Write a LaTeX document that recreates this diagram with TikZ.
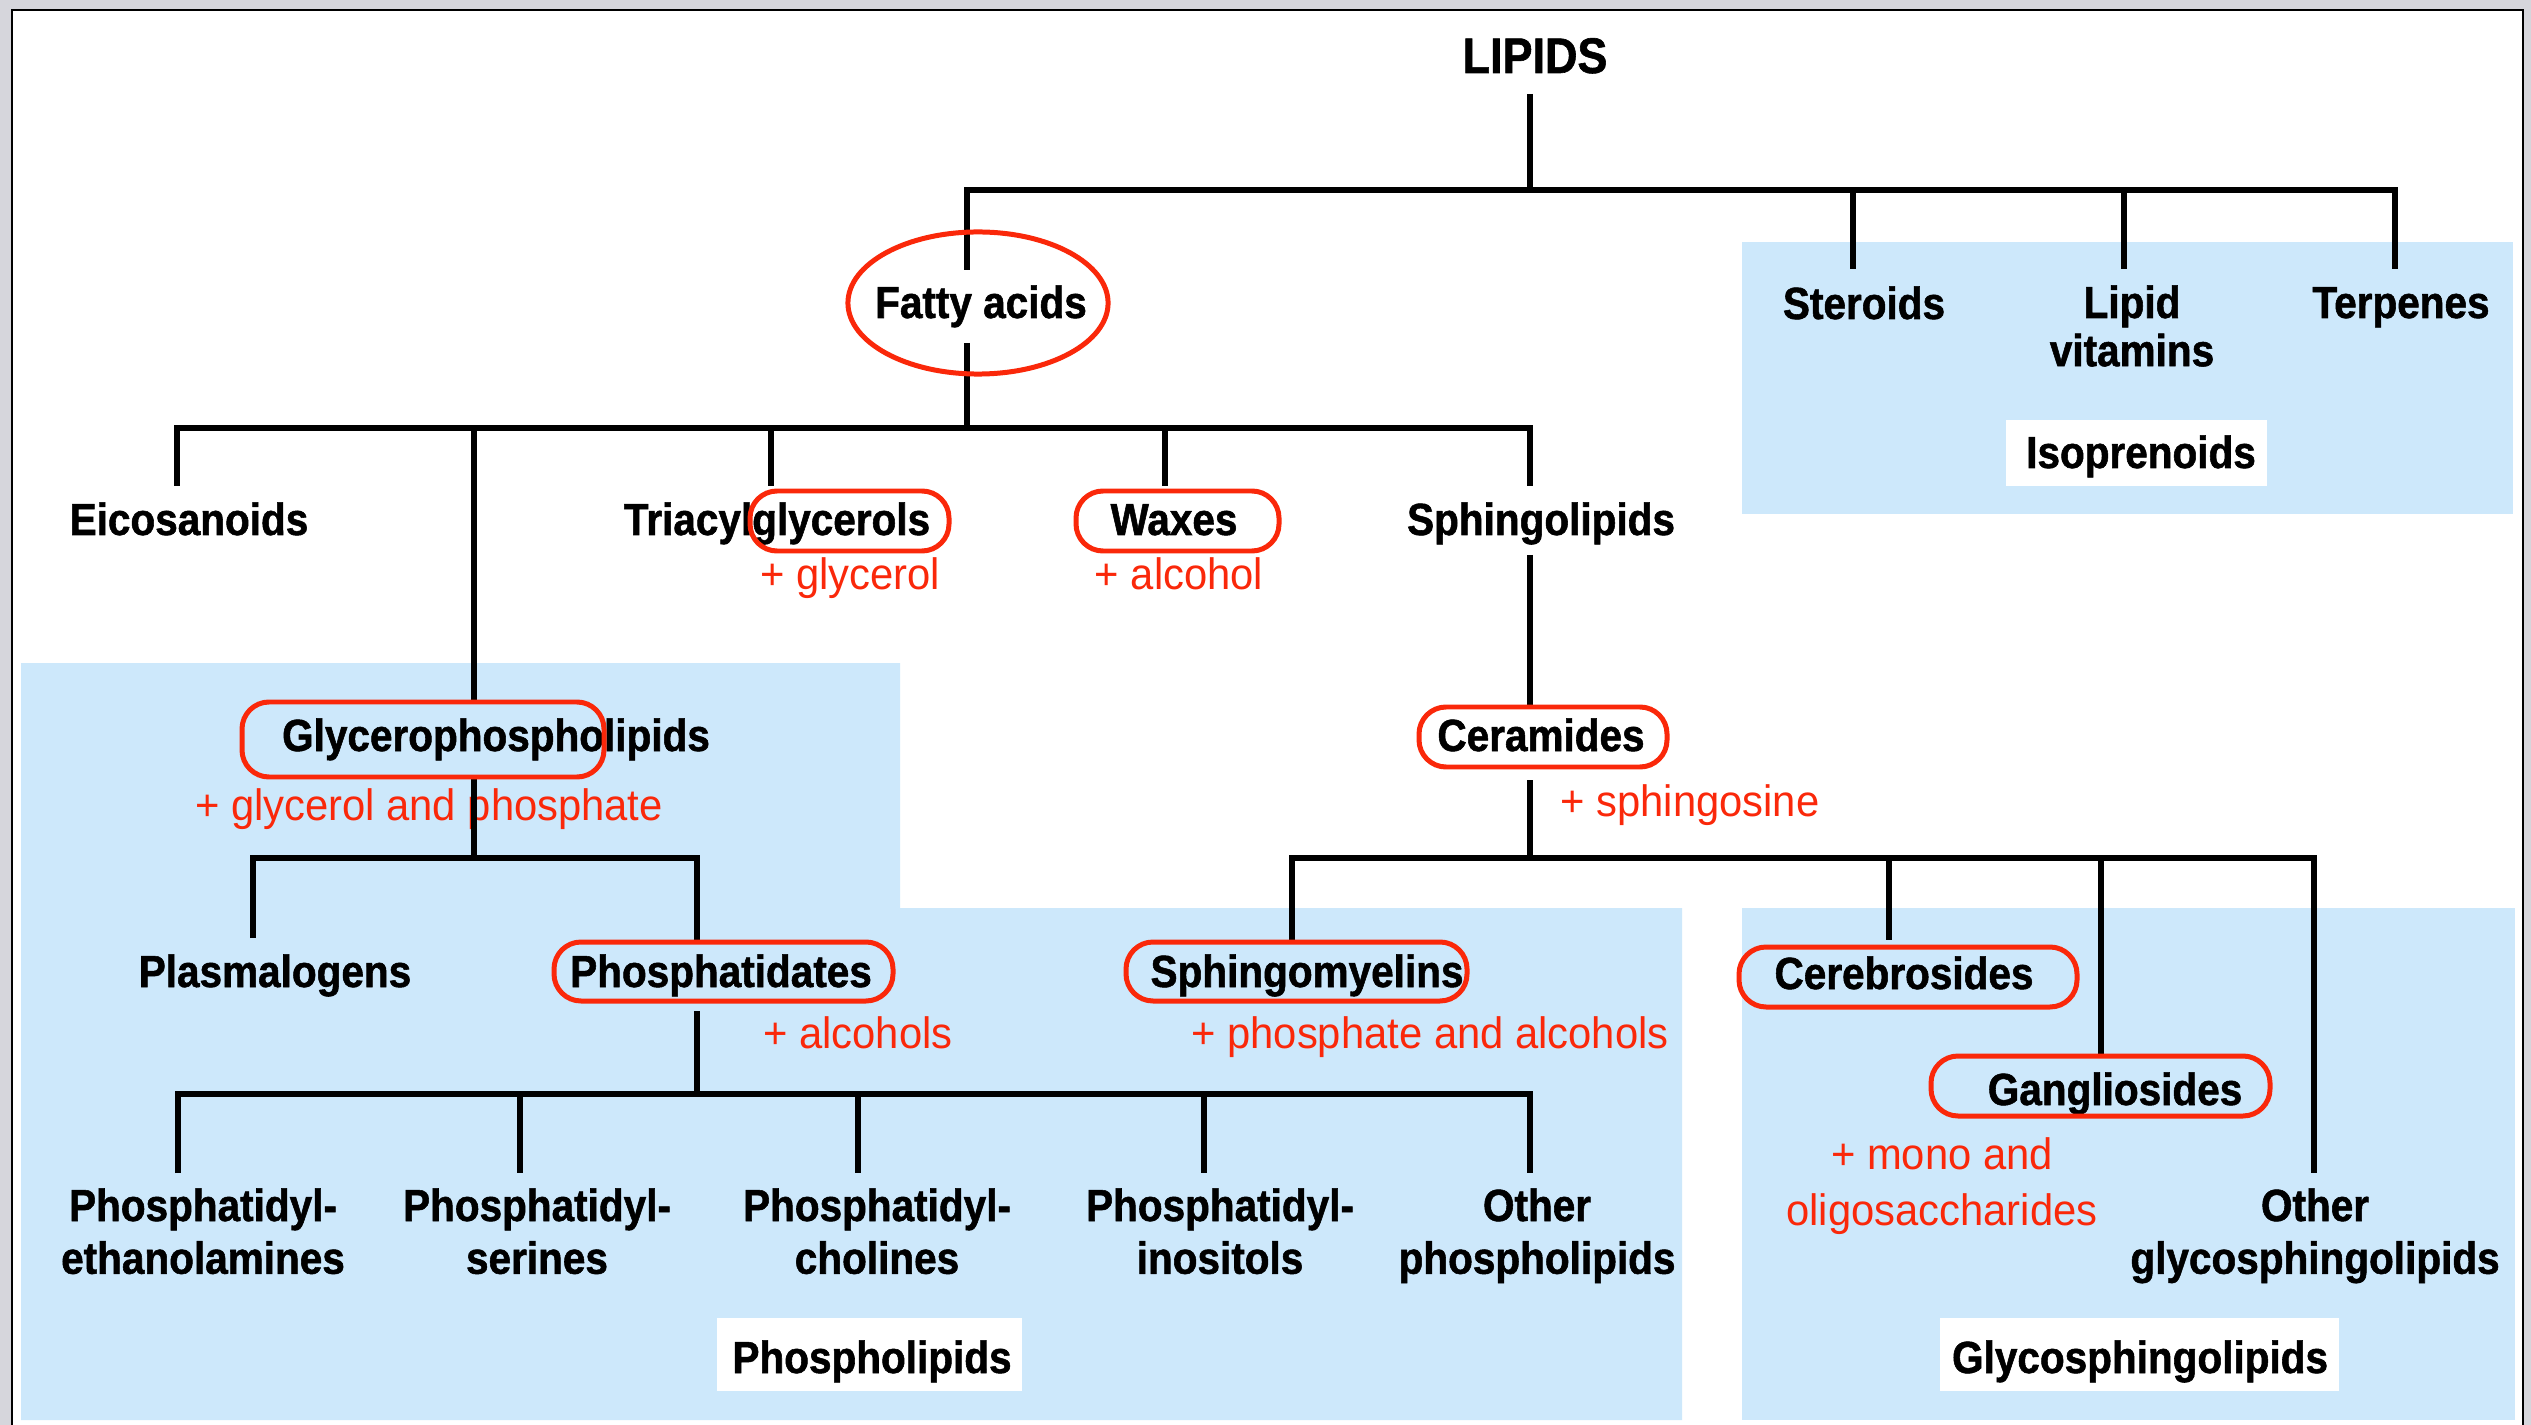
\documentclass[tikz,border=0pt]{standalone}
\usepackage{fontspec}
\setmainfont{Liberation Sans}
\newfontfamily\bk{Liberation Sans}[FakeStretch=0.9, BoldFeatures={FakeBold=1.2}]
\newfontfamily\rdf{Liberation Sans}[FakeStretch=0.95]
\definecolor{lblue}{RGB}{205,232,251}
\definecolor{rr}{RGB}{250,40,10}
\definecolor{frm}{RGB}{214,214,220}
\begin{document}
\begin{tikzpicture}[x=0.01cm,y=-0.01cm,
  tree/.style={line width=1.85pt},
  blk/.style={font=\bk\bfseries\fontsize{12.8}{15}\selectfont, inner sep=0pt, anchor=base},
  rtxt/.style={font=\rdf\fontsize{12.5}{16.2}\selectfont, text=rr, inner sep=0pt, anchor=base},
  rbox/.style={draw=rr, line width=1.42pt, rounded corners=0.27cm}]
\useasboundingbox (0,0) rectangle (2531,1425);
% frame
\fill[frm] (0,0) rectangle (2531,1425);
\fill[white] (12,10) rectangle (2523,1425);
\draw[line width=0.6pt] (12,1425) -- (12,10) -- (2523,10) -- (2523,1425);
% blue areas
\fill[lblue] (1742,242) rectangle (2513,514);
\fill[lblue] (21,663) -- (900,663) -- (900,908) -- (1682,908) -- (1682,1420) -- (21,1420) -- cycle;
\fill[lblue] (1742,908) rectangle (2515,1420);
% white label boxes
\fill[white] (2006,420) rectangle (2267,486);
\fill[white] (717,1318) rectangle (1022,1391);
\fill[white] (1940,1318) rectangle (2339,1391);

% texts
\node[blk, font=\bk\bfseries\fontsize{14.2}{16}\selectfont] (lipids) at (1535,73) {LIPIDS};
\node[blk] (fatty) at (981,318) {Fatty acids};
\node[blk] (steroids) at (1864,319) {Steroids};
\node[blk] (lipvit) at (2132,318) {\fontsize{12.8}{13.7}\selectfont\begin{tabular}[t]{@{}c@{}}Lipid\\vitamins\end{tabular}};
\node[blk] (terpenes) at (2401,318) {Terpenes};
\node[blk] (isopren) at (2141,468) {Isoprenoids};
\node[blk] (eicos) at (189,535) {Eicosanoids};
\node[blk] (triacyl) at (777,535) {Triacylglycerols};
\node[blk] (waxes) at (1174,535) {Waxes};
\node[blk] (sphingo) at (1541,535) {Sphingolipids};
\node[blk] (glycero) at (496,751) {Glycerophospholipids};
\node[blk] (ceram) at (1541,751) {Ceramides};
\node[blk] (plasmal) at (275,987) {Plasmalogens};
\node[blk] (phosphat) at (721,987) {Phosphatidates};
\node[blk] (sphmy) at (1307,987) {Sphingomyelins};
\node[blk] (cerebro) at (1904,989) {Cerebrosides};
\node[blk] (ganglio) at (2115,1105) {Gangliosides};
\node[blk] (pe) at (203,1221) {\begin{tabular}[t]{@{}c@{}}Phosphatidyl-\\ethanolamines\end{tabular}};
\node[blk] (ps) at (537,1221) {\begin{tabular}[t]{@{}c@{}}Phosphatidyl-\\serines\end{tabular}};
\node[blk] (pc) at (877,1221) {\begin{tabular}[t]{@{}c@{}}Phosphatidyl-\\cholines\end{tabular}};
\node[blk] (pi) at (1220,1221) {\begin{tabular}[t]{@{}c@{}}Phosphatidyl-\\inositols\end{tabular}};
\node[blk] (otherp) at (1537,1221) {\begin{tabular}[t]{@{}c@{}}Other\\phospholipids\end{tabular}};
\node[blk] (otherg) at (2315,1221) {\begin{tabular}[t]{@{}c@{}}Other\\glycosphingolipids\end{tabular}};
\node[blk] (phlab) at (872,1373) {Phospholipids};
\node[blk] (gslab) at (2140,1373) {Glycosphingolipids};

% red texts
\node[rtxt] (r1) at (850,590) {+ glycerol};
\node[rtxt] (r2) at (1179,590) {+ alcohol};
\node[rtxt] (r3) at (429,820) {+ glycerol and phosphate};
\node[rtxt] (r4) at (1690,816) {+ sphingosine};
\node[rtxt] (r5) at (858,1048) {+ alcohols};
\node[rtxt] (r6) at (1430,1048) {+ phosphate and alcohols};
\node[rtxt] (r7) at (1942,1169) {\begin{tabular}[t]{@{}c@{}}+ mono and\\oligosaccharides\end{tabular}};

% connector coordinates
\coordinate (lip-s) at (1530,94);
\coordinate (b0) at (1530,190);
\coordinate (fa-n) at (967,270);
\coordinate (st-n) at (1853,269);
\coordinate (lv-n) at (2124,269);
\coordinate (tp-n) at (2395,269);
\coordinate (fa-s) at (967,343);
\coordinate (b1) at (967,428);
\coordinate (ei-n) at (177,486);
\coordinate (gp-n) at (474,702);
\coordinate (tg-n) at (771,486);
\coordinate (wx-n) at (1165,486);
\coordinate (sl-n) at (1530,486);
\coordinate (sl-s) at (1530,555);
\coordinate (cer-n) at (1530,707);
\coordinate (cer-s) at (1530,780);
\coordinate (b3) at (1530,858);
\coordinate (sm-n) at (1292,940);
\coordinate (cb-n) at (1889,940);
\coordinate (gg-n) at (2101,1056);
\coordinate (og-n) at (2314,1173);
\coordinate (gp-s) at (474,779);
\coordinate (b2) at (474,858);
\coordinate (pl-n) at (253,938);
\coordinate (pa-n) at (697,940);
\coordinate (pa-s) at (697,1011);
\coordinate (b4) at (697,1094);
\coordinate (pe-n) at (178,1173);
\coordinate (ps-n) at (520,1173);
\coordinate (pc-n) at (858,1173);
\coordinate (pi-n) at (1204,1173);
\coordinate (op-n) at (1530,1173);

% connectors
\draw[tree] (lip-s) -- (b0);
\draw[tree] (fa-n) -- (fa-n |- b0) -- (tp-n |- b0) -- (tp-n);
\draw[tree] (st-n |- b0) -- (st-n);
\draw[tree] (lv-n |- b0) -- (lv-n);
\draw[tree] (fa-s) -- (b1);
\draw[tree] (ei-n) -- (ei-n |- b1) -- (sl-n |- b1) -- (sl-n);
\draw[tree] (gp-n |- b1) -- (gp-n);
\draw[tree] (tg-n |- b1) -- (tg-n);
\draw[tree] (wx-n |- b1) -- (wx-n);
\draw[tree] (sl-s) -- (cer-n);
\draw[tree] (cer-s) -- (b3);
\draw[tree] (sm-n) -- (sm-n |- b3) -- (og-n |- b3) -- (og-n);
\draw[tree] (cb-n |- b3) -- (cb-n);
\draw[tree] (gg-n |- b3) -- (gg-n);
\draw[tree] (gp-s) -- (b2);
\draw[tree] (pl-n) -- (pl-n |- b2) -- (pa-n |- b2) -- (pa-n);
\draw[tree] (pa-s) -- (b4);
\draw[tree] (pe-n) -- (pe-n |- b4) -- (op-n |- b4) -- (op-n);
\draw[tree] (ps-n |- b4) -- (ps-n);
\draw[tree] (pc-n |- b4) -- (pc-n);
\draw[tree] (pi-n |- b4) -- (pi-n);

% red outlines
\draw[draw=rr, line width=1.42pt] (978,303) ellipse [x radius=1.30cm, y radius=0.71cm];
\draw[rbox] (750,491) rectangle (949,551);
\draw[rbox] (1076,491) rectangle (1279,551);
\draw[rbox] (242,702) rectangle (604,777);
\draw[rbox] (1419,707) rectangle (1667,767);
\draw[rbox] (554,942) rectangle (893,1001);
\draw[rbox] (1126,942) rectangle (1467,1001);
\draw[rbox] (1739,947) rectangle (2077,1007);
\draw[rbox] (1931,1056) rectangle (2270,1116);
\end{tikzpicture}
\end{document}
